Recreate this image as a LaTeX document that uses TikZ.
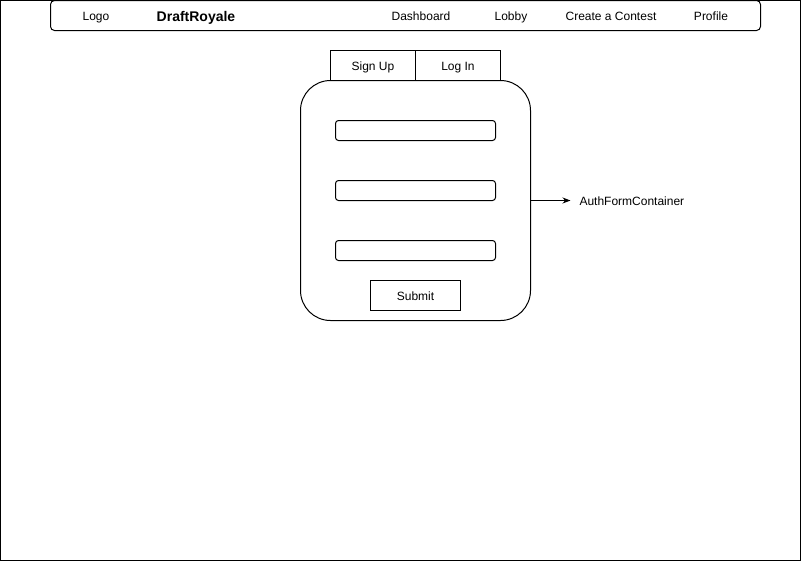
\documentclass[tikz,border=0pt]{standalone}
\usepackage{fontspec}
\setmainfont{Liberation Sans}
\usetikzlibrary{arrows.meta}
\begin{document}
\begin{tikzpicture}[x=0.75pt,y=-0.75pt,line width=0.75pt,
  lbl/.style={font=\fontsize{9}{11}\selectfont,inner sep=0pt,anchor=base},
  boxline/.style={draw=black}]
\useasboundingbox (0,0) rectangle (801,561);
\draw[boxline] (0.5,0.5) rectangle (800.5,560.5);
% navbar
\draw[boxline,rounded corners=3pt] (50.5,0.5) rectangle (760.5,30.5);
\node[lbl] (logo) at (96,20.3) {Logo};
\node[lbl,font=\fontsize{10.5}{12}\selectfont\bfseries] (brand) at (196,21) {DraftRoyale};
\node[lbl] (dash) at (421,20.3) {Dashboard};
\node[lbl] (lobby) at (511,20.3) {Lobby};
\node[lbl] (create) at (611,20.3) {Create a Contest};
\node[lbl] (profile) at (711,20.3) {Profile};
% tabs
\draw[boxline] (330.5,50.5) rectangle (415.5,80.5);
\draw[boxline] (415.5,50.5) rectangle (500.5,80.5);
\node[lbl] (signup) at (373,70.3) {Sign Up};
\node[lbl] (login) at (458,70.3) {Log In};
% container
\draw[boxline,rounded corners=22.5pt] (300.5,80.5) rectangle (530.5,320.5);
\coordinate (cont) at (530.5,200.5);
% inputs
\draw[boxline,rounded corners=2.25pt] (335.5,120.5) rectangle (495.5,140.5);
\draw[boxline,rounded corners=2.25pt] (335.5,180.5) rectangle (495.5,200.5);
\draw[boxline,rounded corners=2.25pt] (335.5,240.5) rectangle (495.5,260.5);
% submit
\draw[boxline] (370.5,280.5) rectangle (460.5,310.5);
\node[lbl] (submit) at (415.5,300.3) {Submit};
% annotation
\node[lbl,anchor=base west] (auth) at (579,205.3) {AuthFormContainer};
\coordinate (tip) at (570.5,200.5);
\draw[-{Stealth[length=6pt,width=4.5pt]}] (cont) -- (tip);
\end{tikzpicture}
\end{document}
